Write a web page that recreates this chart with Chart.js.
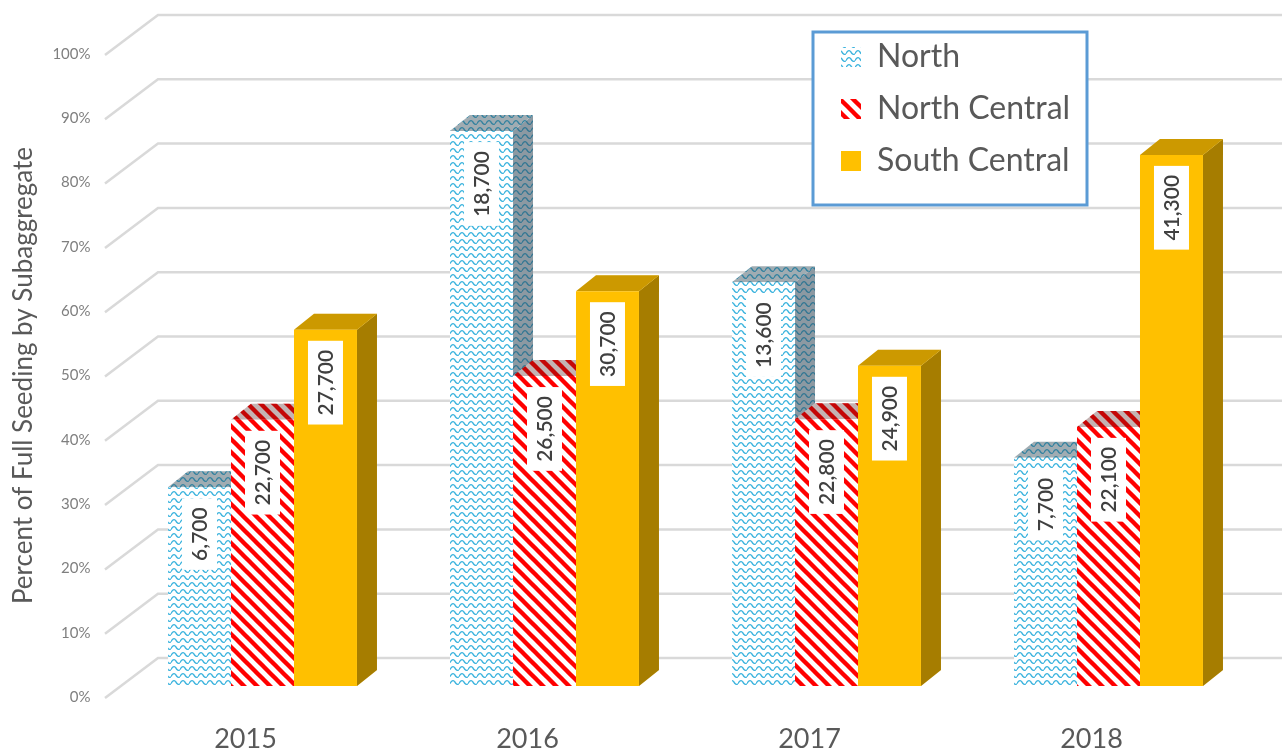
<!DOCTYPE html>
<html><head><meta charset="utf-8">
<style>html,body{margin:0;padding:0;background:#fff}canvas{display:block}</style>
<script src="https://cdn.jsdelivr.net/npm/chart.js@4"></script>
</head><body><canvas id="c" width="1282" height="751"></canvas>
<script>
const categories = ['2015','2016','2017','2018'];
const seriesNames = ['North','North Central','South Central'];
const northPct = [30.9,86.3,62.8,35.5];
const northCentralPct = [41.4,48.2,41.5,40.3];
const southCentralPct = [55.4,61.4,49.8,82.6];
const northLabels = [6700,18700,13600,7700];
const northCentralLabels = [22700,26500,22800,22100];
const southCentralLabels = [27700,30700,24900,41300];
const yTicks = [0,10,20,30,40,50,60,70,80,90,100];

const FONT = 'Lato, Carlito, sans-serif';
function tile(w,h,draw){const c=document.createElement('canvas');c.width=w;c.height=h;const x=c.getContext('2d');draw(x,w,h);return x.createPattern(c,'repeat');}
const wave = tile(9,7,(x,w,h)=>{x.fillStyle='#fff';x.fillRect(0,0,w,h);x.strokeStyle='#3db4de';x.lineWidth=1.3;x.beginPath();x.moveTo(0,4.6);x.quadraticCurveTo(2.25,.2,4.5,2.4);x.quadraticCurveTo(6.75,6.8,9,4.6);x.stroke();});
const stripes = tile(13,13,(x,w,h)=>{x.fillStyle='#fff';x.fillRect(0,0,w,h);x.strokeStyle='#ff0000';x.lineWidth=4.4;for(const o of[-13,0,13]){x.beginPath();x.moveTo(o-2,-2);x.lineTo(o+15,15);x.stroke();}});
const gold = '#FFC000';
const faces = [
 {fill:wave, side:'rgba(45,70,85,.55)', top:'rgba(45,70,85,.45)'},
 {fill:stripes, side:'rgba(70,20,20,.45)', top:'rgba(70,20,20,.32)'},
 {fill:gold, side:'rgba(0,0,0,.35)', top:'rgba(0,0,0,.2)'}
];
const valueLabels=[northLabels,northCentralLabels,southCentralLabels];
const DX=20, DY=16;
function poly(ctx,p,fill,shade){ctx.beginPath();p.forEach((q,i)=>i?ctx.lineTo(q[0],q[1]):ctx.moveTo(q[0],q[1]));ctx.closePath();ctx.fillStyle=fill;ctx.fill();ctx.fillStyle=shade;ctx.fill();}
const scene={
 id:'scene',
 afterLayout(chart){const l=chart.legend;l.left=821;l.top=21;l.right=1087;l.bottom=240;},
 beforeDraw(chart){
  const ctx=chart.ctx,y=chart.scales.y;
  ctx.save();ctx.fillStyle='#fff';ctx.fillRect(0,0,chart.width,chart.height);
  ctx.strokeStyle='#d9d9d9';ctx.lineWidth=2.5;
  yTicks.forEach(v=>{const p=y.getPixelForValue(v);ctx.beginPath();ctx.moveTo(105,p+12);ctx.lineTo(158,p-28);ctx.lineTo(chart.width,p-28);ctx.stroke();});
  ctx.fillStyle='#fff';ctx.fillRect(813,32,274,173);
  ctx.strokeStyle='#5B9BD5';ctx.lineWidth=3;ctx.strokeRect(813,32,274,173);
  ctx.restore();
 },
 beforeDatasetsDraw(chart){
  const ctx=chart.ctx;ctx.save();
  categories.forEach((_,i)=>{faces.forEach((f,d)=>{
   const e=chart.getDatasetMeta(d).data[i],l=e.x-e.width/2,r=e.x+e.width/2,t=e.y,b=e.base;
   poly(ctx,[[r,t],[r+DX,t-DY],[r+DX,b-DY],[r,b]],f.fill,f.side);
   poly(ctx,[[l,t],[l+DX,t-DY],[r+DX,t-DY],[r,t]],f.fill,f.top);
  });});
  ctx.restore();
 },
 afterDatasetsDraw(chart){
  const ctx=chart.ctx;ctx.save();ctx.font='600 21px '+FONT;ctx.textAlign='center';ctx.textBaseline='middle';
  categories.forEach((_,i)=>{valueLabels.forEach((arr,d)=>{
   const e=chart.getDatasetMeta(d).data[i],txt=arr[i].toLocaleString('en-US');
   const w=ctx.measureText(txt).width+18,h=35;
   const top=e.y+11;
   ctx.fillStyle='#fff';ctx.fillRect(e.x-h/2,top,h,w);
   ctx.save();ctx.translate(e.x,top+w/2);ctx.rotate(-Math.PI/2);ctx.fillStyle='#404040';ctx.fillText(txt,0,1);ctx.restore();
  });});
  ctx.restore();
 }
};
new Chart(document.getElementById('c'),{
 type:'bar',
 data:{labels:categories,datasets:[
  {label:seriesNames[0],data:northPct,backgroundColor:wave},
  {label:seriesNames[1],data:northCentralPct,backgroundColor:stripes},
  {label:seriesNames[2],data:southCentralPct,backgroundColor:gold}
 ]},
 options:{
  responsive:false,animation:false,
  layout:{padding:{top:43,right:32.5,bottom:0,left:0}},
  categoryPercentage:.67,barPercentage:1,
  plugins:{tooltip:{enabled:false},
   legend:{position:'chartArea',align:'start',onClick:null,
    labels:{boxWidth:20,boxHeight:20,padding:20,color:'#595959',font:{family:FONT,size:32}}}},
  scales:{
   x:{grid:{display:false,drawTicks:false},border:{display:false},
    afterFit(s){s.height=43;},
    ticks:{labelOffset:-17,padding:15,color:'#595959',maxRotation:0,font:{family:FONT,size:27}}},
   y:{min:-3.42,max:100,grid:{display:false,drawTicks:false},border:{display:false},
    afterFit(s){s.width=121.5;},
    afterBuildTicks(s){s.ticks=yTicks.map(v=>({value:v}));},
    title:{display:true,text:'Percent of Full Seeding by Subaggregate',color:'#595959',font:{family:FONT,size:26},padding:{top:8,bottom:0}},
    ticks:{labelOffset:11,padding:31,color:'#7f7f7f',font:{family:FONT,size:15},callback:v=>v+'%'}}
  }
 },
 plugins:[scene]
});
</script></body></html>
